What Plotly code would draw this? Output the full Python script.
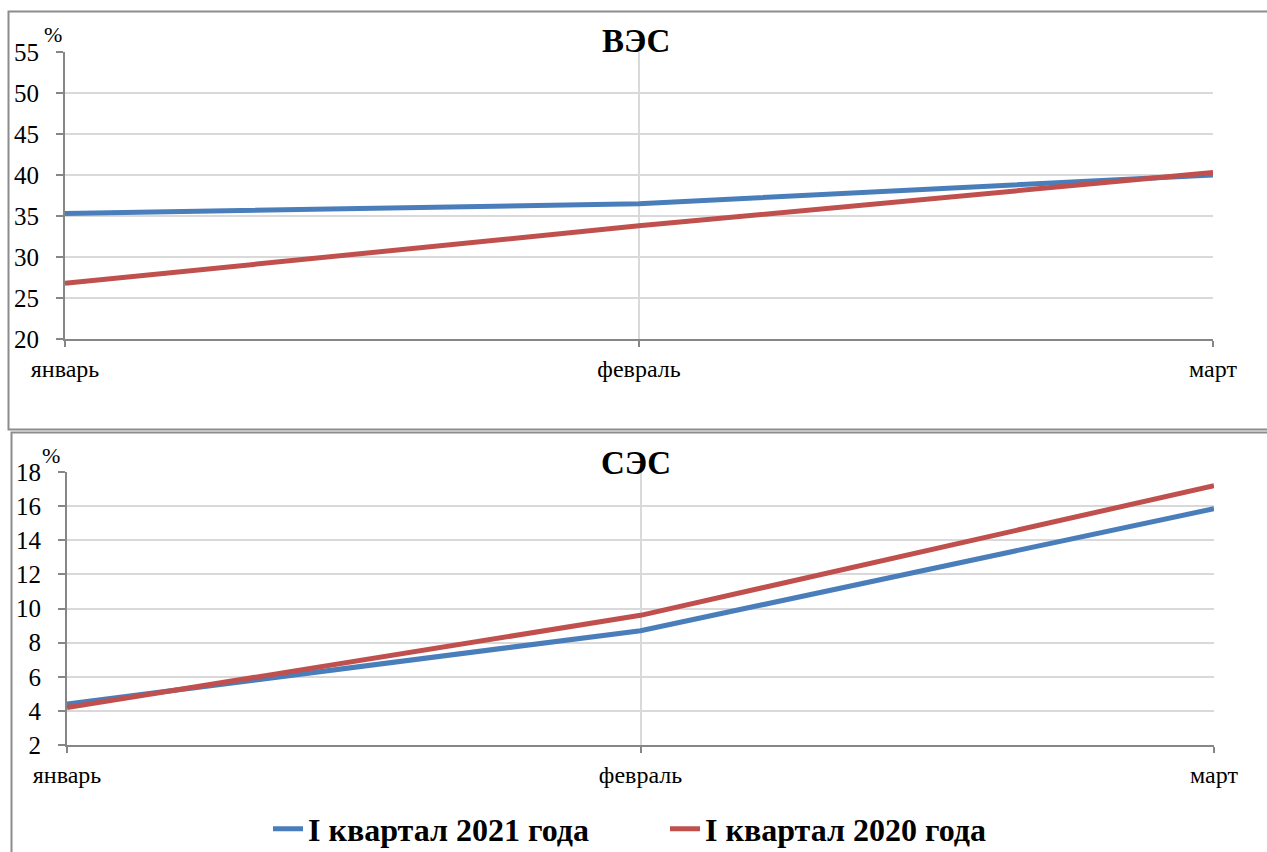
import plotly.graph_objects as go

# Months of the first quarter
months = ["январь", "февраль", "март"]

# Wind power (ВЭС), %
wind_2021 = [35.3, 36.5, 40.0]
wind_2020 = [26.8, 33.8, 40.3]

# Solar power (СЭС), %
solar_2021 = [4.4, 8.7, 15.85]
solar_2020 = [4.2, 9.6, 17.2]

series_names = ["I квартал 2021 года", "I квартал 2020 года"]
wind_ticks = [20, 25, 30, 35, 40, 45, 50, 55]
solar_ticks = [2, 4, 6, 8, 10, 12, 14, 16, 18]

W, H = 1267, 852
BLUE = "#4a7ebb"
RED = "#c0504d"
SERIF = "Liberation Serif"


def px_x(v):
    return v / W


def px_y(v):
    return 1 - v / H


fig = go.Figure()
xs = list(range(len(months)))

fig.add_trace(go.Scatter(x=xs, y=wind_2021, mode="lines", name=series_names[0],
                         line=dict(color=BLUE, width=5), xaxis="x", yaxis="y"))
fig.add_trace(go.Scatter(x=xs, y=wind_2020, mode="lines", name=series_names[1],
                         line=dict(color=RED, width=5), xaxis="x", yaxis="y"))
fig.add_trace(go.Scatter(x=xs, y=solar_2021, mode="lines", name=series_names[0],
                         line=dict(color=BLUE, width=5), xaxis="x2", yaxis="y2",
                         showlegend=False))
fig.add_trace(go.Scatter(x=xs, y=solar_2020, mode="lines", name=series_names[1],
                         line=dict(color=RED, width=5), xaxis="x2", yaxis="y2",
                         showlegend=False))

xaxis_common = dict(
    range=[0, 2], tickvals=xs, ticktext=months,
    showgrid=True, gridcolor="#d9d9d9", gridwidth=2,
    showline=True, linecolor="#868686", linewidth=2,
    ticks="outside", ticklen=6, tickcolor="#868686", tickwidth=2,
    tickfont=dict(family=SERIF, size=24, color="#000000"),
    ticklabelstandoff=1, zeroline=False, fixedrange=True, automargin=False,
)
yaxis_common = dict(
    showgrid=True, gridcolor="#d9d9d9", gridwidth=2,
    showline=True, linecolor="#868686", linewidth=2,
    ticks="outside", ticklen=7, tickcolor="#868686", tickwidth=2,
    tickfont=dict(family=SERIF, size=25, color="#000000"),
    ticklabelstandoff=12, zeroline=False, fixedrange=True, automargin=False,
)

fig.update_layout(
    width=W, height=H,
    margin=dict(l=0, r=0, t=0, b=0, autoexpand=False),
    paper_bgcolor="white", plot_bgcolor="white",
    font=dict(family=SERIF, color="#000000"),
    xaxis=dict(domain=[px_x(65), px_x(1213)], anchor="y", **xaxis_common),
    yaxis=dict(domain=[px_y(339), px_y(52)], anchor="x", range=[20, 55],
               tickvals=wind_ticks, **yaxis_common),
    xaxis2=dict(domain=[px_x(67), px_x(1214)], anchor="y2", **xaxis_common),
    yaxis2=dict(domain=[px_y(745), px_y(472)], anchor="x2", range=[2, 18],
                tickvals=solar_ticks, **yaxis_common),
    legend=dict(orientation="h", x=px_x(268), y=px_y(829), xanchor="left",
                yanchor="middle", font=dict(family=SERIF, size=32, color="#000000",
                                            weight="bold"),
                entrywidth=352, entrywidthmode="pixels",
                tracegroupgap=0, bgcolor="rgba(0,0,0,0)"),
    showlegend=True,
)

# Panel frames
fig.add_shape(type="rect", xref="paper", yref="paper",
              x0=px_x(8.5), x1=px_x(1280), y0=px_y(429.5), y1=px_y(11.5),
              line=dict(color="#8c8c8c", width=2), layer="below")
fig.add_shape(type="rect", xref="paper", yref="paper",
              x0=px_x(11.5), x1=px_x(1280), y0=px_y(870), y1=px_y(432.5),
              line=dict(color="#8c8c8c", width=2), layer="below")

# Panel titles and unit labels
for text, cx, cy in [("ВЭС", 636, 41), ("СЭС", 636, 463)]:
    fig.add_annotation(text=f"<b>{text}</b>", xref="paper", yref="paper",
                       x=px_x(cx), y=px_y(cy), showarrow=False,
                       xanchor="center", yanchor="middle",
                       font=dict(family=SERIF, size=33, color="#000000"))
for cx, cy in [(53, 35), (51, 455)]:
    fig.add_annotation(text="%", xref="paper", yref="paper",
                       x=px_x(cx), y=px_y(cy), showarrow=False,
                       xanchor="center", yanchor="middle",
                       font=dict(family=SERIF, size=22, color="#000000"))

fig.write_html("out.html")
